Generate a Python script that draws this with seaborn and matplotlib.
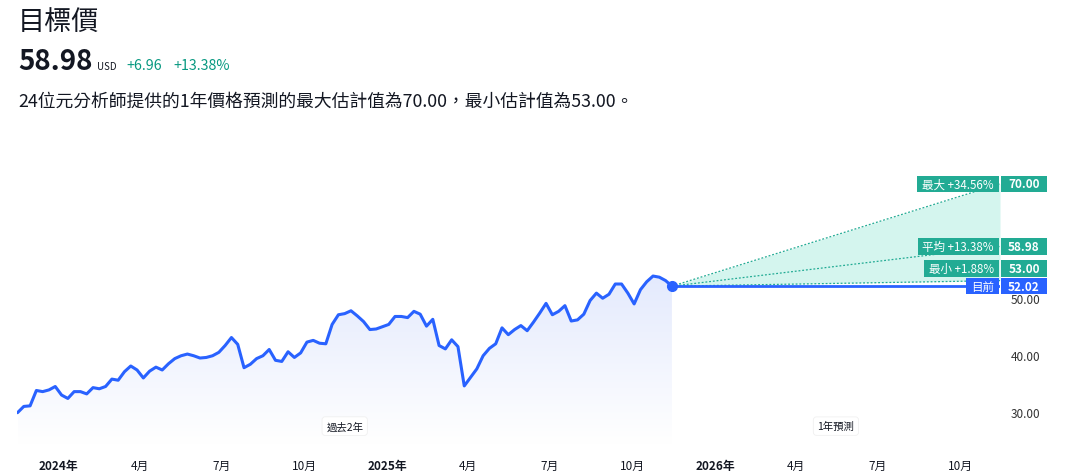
import numpy as np
import pandas as pd
import seaborn as sns
import matplotlib.pyplot as plt
import matplotlib.dates as mdates
from matplotlib.colors import LinearSegmentedColormap
from matplotlib.patches import Rectangle
from matplotlib.transforms import IdentityTransform, blended_transform_factory

sns.set_theme(style="white")
plt.rcParams['font.family'] = ['Noto Sans CJK TC', 'DejaVu Sans']

# weekly closes, past 2 years
start_date = "2023-11-17"
prices = [29.8, 30.9, 31.0, 33.7, 33.5, 33.8, 34.4, 32.9, 32.3, 33.5,
          33.5, 33.1, 34.2, 34.0, 34.4, 35.7, 35.5, 37.0, 38.0, 37.3,
          35.9, 37.1, 37.8, 37.3, 38.4, 39.3, 39.8, 40.1, 39.8, 39.4,
          39.5, 39.8, 40.4, 41.6, 43.0, 41.8, 37.7, 38.3, 39.3, 39.8,
          40.9, 39.0, 38.8, 40.5, 39.5, 40.3, 42.2, 42.5, 42.0, 41.9,
          45.3, 47.0, 47.2, 47.7, 46.8, 45.8, 44.4, 44.5, 44.9, 45.3,
          46.7, 46.7, 46.5, 47.6, 47.1, 45.0, 46.2, 41.6, 41.0, 42.6,
          41.4, 34.5, 36.0, 37.5, 39.8, 41.1, 41.9, 44.7, 43.5, 44.4,
          45.1, 44.2, 45.7, 47.3, 49.0, 47.0, 47.6, 48.6, 45.9, 46.1,
          47.1, 49.5, 50.8, 49.9, 50.6, 52.4, 52.4, 50.8, 48.9, 51.4,
          52.8, 53.8, 53.6, 53.0, 52.02]

current = 52.02
target_names = ["最大", "平均", "最小"]
target_values = [70.00, 58.98, 53.00]
target_pcts = ["+34.56%", "+13.38%", "+1.88%"]
avg_change = "+6.96"
avg_change_pct = "+13.38%"
n_analysts = 24
y_ticks = [30, 40, 50, 60]
x_ticks = pd.date_range("2024-01-01", "2026-10-01", freq="QS")

BLUE = "#2962ff"
TEAL = "#22ab94"
TEXT = "#131722"

dates = pd.date_range(start_date, periods=len(prices), freq="7D")
forecast_end = dates[-1] + pd.DateOffset(years=1)
df = pd.DataFrame({"date": dates, "price": prices})

W, H = 1073, 477
fig = plt.figure(figsize=(W / 100, H / 100), dpi=100)
ax = fig.add_axes([17.5 / W, 1 - 445 / H, (1000 - 17.5) / W, (445 - 170) / H])
ylo, yhi = 24.3, 72.6

# gradient area under the history line
area = ax.fill_between(df["date"], df["price"], ylo, color="none", lw=0)
grad = np.linspace(0, 1, 256).reshape(-1, 1)
cmap = LinearSegmentedColormap.from_list("area", ["#ffffff", "#e4eafd"])
im = ax.imshow(grad, extent=[mdates.date2num(dates[0]), mdates.date2num(dates[-1]), ylo, max(prices)],
               origin="lower", cmap=cmap, aspect="auto", zorder=1)
im.set_clip_path(area.get_paths()[0], transform=ax.transData)

sns.lineplot(data=df, x="date", y="price", ax=ax, color=BLUE, lw=2.2, zorder=5)

# forecast fan
fx = [dates[-1], forecast_end]
ax.fill_between(fx, [current, min(target_values)], [current, max(target_values)],
                color="#d4f5ee", lw=0, zorder=2)
for v in target_values:
    ax.plot(fx, [current, v], color=TEAL, lw=0.9, ls=(0, (1.5, 1.5)), zorder=3)
ax.plot(fx, [current, current], color=BLUE, lw=2, zorder=4)
ax.plot([dates[-1]], [current], "o", ms=7, color=BLUE, zorder=6)

ax.set_xlim(dates[0], forecast_end)
ax.set_ylim(ylo, yhi)
ax.set_xlabel("")
ax.set_ylabel("")
for s in ax.spines.values():
    s.set_visible(False)

ax.yaxis.tick_right()
ax.set_yticks(y_ticks)
ax.set_yticklabels([f"{v:.2f}" for v in y_ticks])
ax.tick_params(axis="y", length=0, pad=8, labelsize=8.5, labelcolor="#333333")
ax.set_xticks(x_ticks)
ax.set_xticklabels([f"{d.year}年" if d.month == 1 else f"{d.month}月" for d in x_ticks])
ax.tick_params(axis="x", length=0, pad=11, labelsize=8.5, labelcolor=TEXT)
for lab, d in zip(ax.get_xticklabels(), x_ticks):
    if d.month == 1:
        lab.set_fontweight("bold")

# section captions
tr = blended_transform_factory(ax.transData, ax.transAxes)
mid_hist = dates[0] + (dates[-1] - dates[0]) / 2
mid_fc = dates[-1] + (forecast_end - dates[-1]) / 2
for xm, txt in [(mid_hist, "過去2年"), (mid_fc, "1年預測")]:
    ax.text(xm, 0.065, txt, transform=tr, ha="center", va="center", fontsize=7.5, color=TEXT,
            zorder=7, bbox=dict(boxstyle="round,pad=0.4,rounding_size=0.3", fc="white", ec="#f0f0f0", lw=0.6))

# right-hand target labels
ident = IdentityTransform()
box_h = 16.5
x_edge = 1000
fig.canvas.draw()
renderer = fig.canvas.get_renderer()


def ypix(v):
    return ax.transData.transform((0, v))[1]


cur_y = ypix(current)
items = sorted(zip(target_values, target_names, target_pcts))
placed = [cur_y]
rows = []
for v, name, pct in items:
    yc = ypix(v)
    if yc - placed[-1] < box_h + 1:
        yc = placed[-1] + box_h + 1
    placed.append(yc)
    rows.append((yc, f"{name} {pct}", f"{v:.2f}", TEAL))
rows.append((cur_y, "目前", f"{current:.2f}", BLUE))

for yc, left_txt, right_txt, col in rows:
    t = fig.text(x_edge - 6, yc, left_txt, transform=ident, ha="right", va="center",
                 fontsize=8.3, color="white", zorder=11)
    bb = t.get_window_extent(renderer)
    fig.add_artist(Rectangle((bb.x0 - 5, yc - box_h / 2), (x_edge - 1) - (bb.x0 - 5), box_h,
                             transform=ident, fc=col, ec="none", zorder=10))
    fig.add_artist(Rectangle((x_edge + 1, yc - box_h / 2), 46, box_h,
                             transform=ident, fc=col, ec="none", zorder=10))
    fig.text(x_edge + 24, yc, right_txt, transform=ident, ha="center", va="center",
             fontsize=8.5, color="white", fontweight="bold", zorder=11)

# header
fig.text(18 / W, 1 - 22 / H, "目標價", fontsize=19.5, color=TEXT, va="center", fontweight="medium")
fig.text(18 / W, 1 - 70 / H, f"{target_values[1]:.2f}", fontsize=20, color=TEXT, va="baseline", fontweight="bold")
fig.text(97 / W, 1 - 70 / H, "USD", fontsize=7, color=TEXT, va="baseline")
fig.text(126 / W, 1 - 70 / H, avg_change, fontsize=10.3, color="#089981", va="baseline")
fig.text(173 / W, 1 - 70 / H, avg_change_pct, fontsize=10.3, color="#089981", va="baseline")
fig.text(18 / W, 1 - 102 / H,
         f"{n_analysts}位元分析師提供的1年價格預測的最大估計值為{max(target_values):.2f}，"
         f"最小估計值為{min(target_values):.2f}。",
         fontsize=12.8, color=TEXT, va="center")

fig.savefig("out.png", dpi=100)
